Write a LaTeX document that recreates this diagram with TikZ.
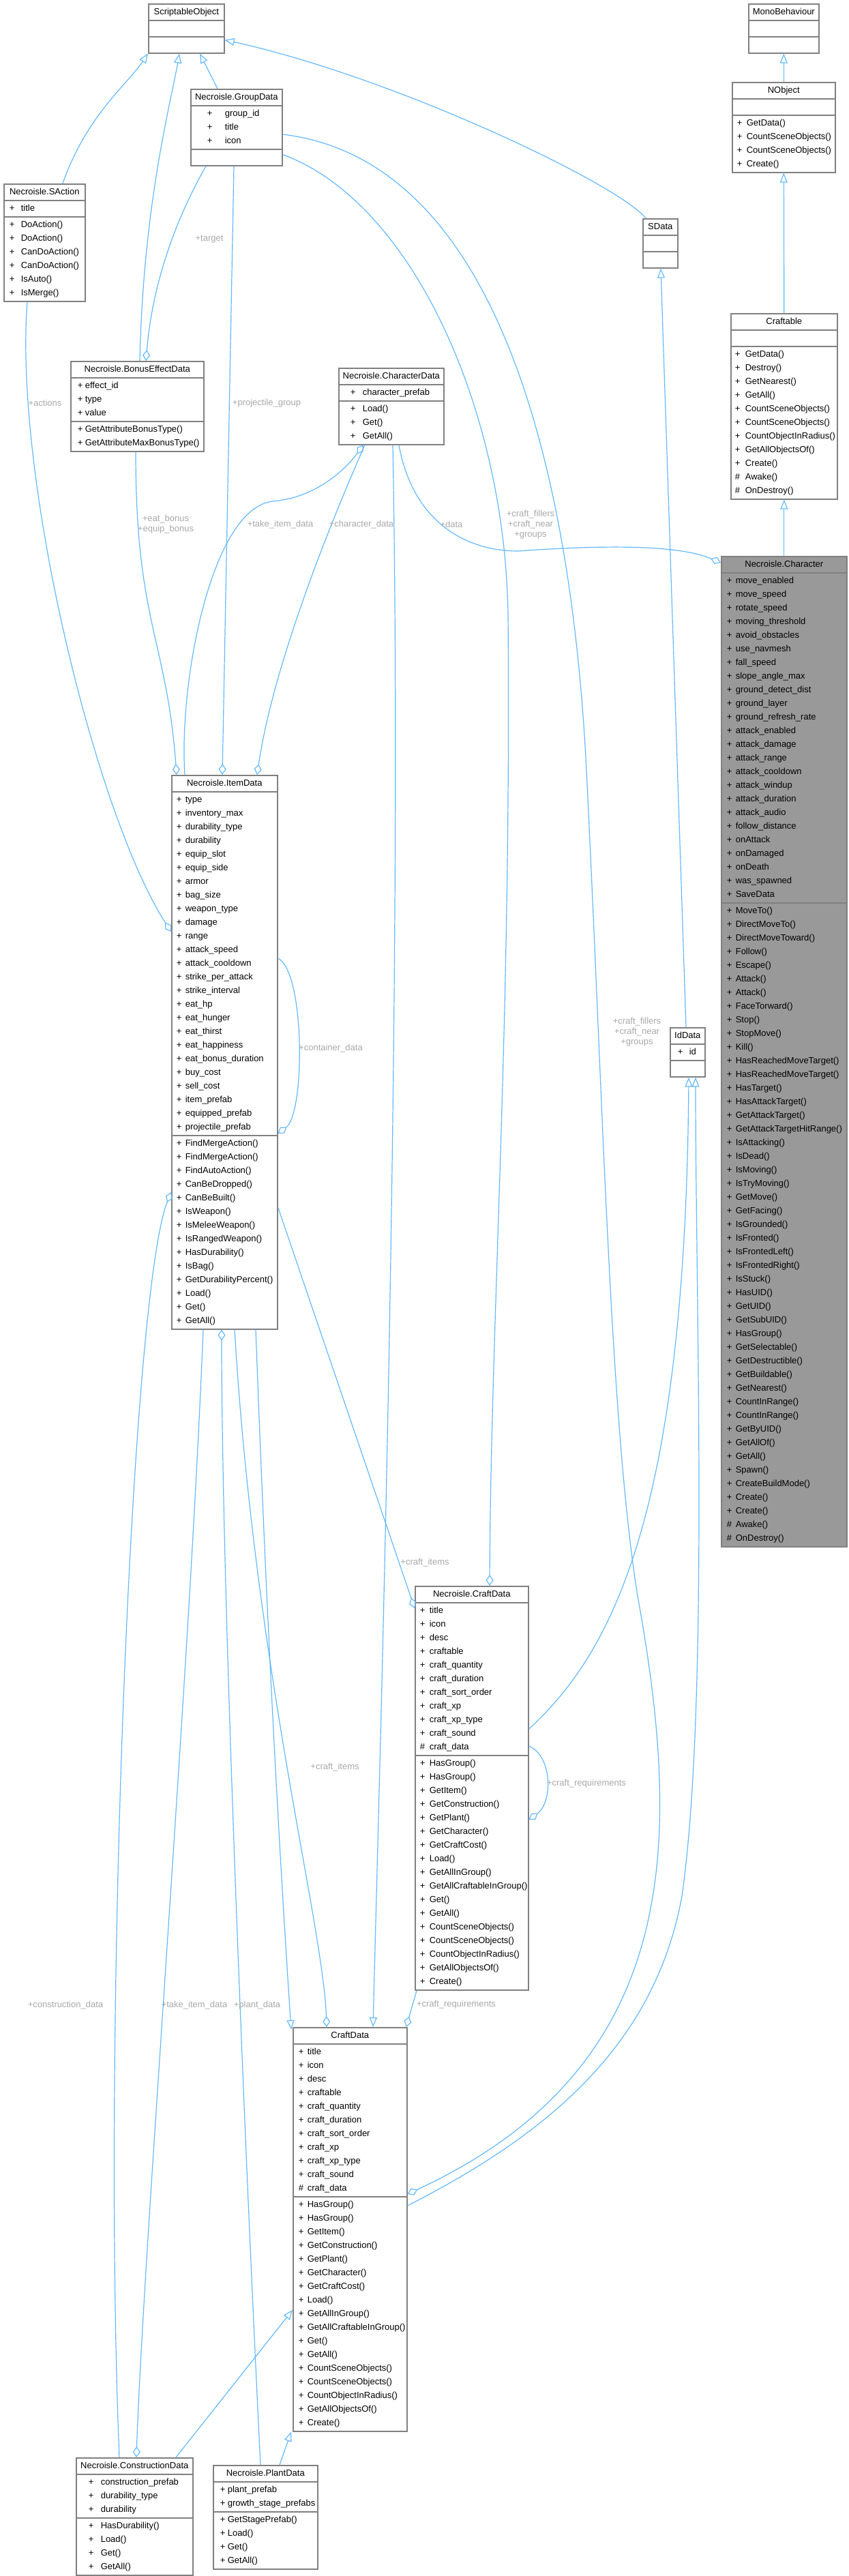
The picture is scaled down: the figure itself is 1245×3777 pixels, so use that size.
\documentclass[tikz,border=0pt]{standalone}
\usepackage{fontspec}
\setmainfont{Liberation Sans}
\usetikzlibrary{shapes.multipart,arrows.meta,calc}
\definecolor{edgeblue}{HTML}{63B8FF}
\definecolor{boxgray}{HTML}{808080}
\definecolor{labelgray}{HTML}{A8A8A8}
\definecolor{focusgray}{HTML}{999999}
\newlength\bxw
\newlength\bxi
\newlength\bxp
\newcommand\ttl[1]{\makebox[\bxw][c]{#1}\strut}
\newcommand\pub[1]{\makebox[\bxw][l]{\hspace*{\bxi}\makebox[\bxp][l]{+}#1}\strut}
\newcommand\pro[1]{\makebox[\bxw][l]{\hspace*{\bxi}\makebox[\bxp][l]{\#}#1}\strut}
\newcommand\emptyrow{\makebox[\bxw]{}\strut}
\begin{document}
\begin{tikzpicture}[x=0.5pt,y=-0.5pt]
    \tikzset{cls/.style = {rectangle split, rectangle split parts=3, draw=boxgray, line width=0.8pt, fill=white, inner xsep=0pt, inner ysep=0.6pt, align=left, anchor=north west, font=\fontsize{6.5}{10}\selectfont},
      bx/.code n args = {3}{\setlength\bxw{#1}\setlength\bxi{#2}\setlength\bxp{#3}},
      inh/.style = {draw=edgeblue, line width=0.6pt, -{Triangle[open,length=7pt,width=5.5pt]}},
      agg/.style = {draw=edgeblue, line width=0.6pt, -{Diamond[open,length=8pt,width=5.5pt]}},
      lbl/.style = {text=labelgray, font=\fontsize{6.5}{7.5}\selectfont, align=center, inner sep=0pt}}
    \useasboundingbox (0,0) rectangle (1245,3777);
    \node[cls,bx={55.5pt}{0pt}{0pt}] (so) at (217,5) {\ttl{ScriptableObject}\nodepart{second}\emptyrow\nodepart{third}\emptyrow};
    \node[cls,bx={51.5pt}{0pt}{0pt}] (mono) at (1097,5) {\ttl{MonoBehaviour}\nodepart{second}\emptyrow\nodepart{third}\emptyrow};
    \node[cls,bx={75.5pt}{3.5pt}{7pt}] (nobj) at (1073,120) {\ttl{NObject}\nodepart{second}\emptyrow\nodepart{third}\pub{GetData()}\\\pub{CountSceneObjects()}\\\pub{CountSceneObjects()}\\\pub{Create()}};
    \node[cls,bx={78pt}{3pt}{7.5pt}] (craftable) at (1071,459) {\ttl{Craftable}\nodepart{second}\emptyrow\nodepart{third}\pub{GetData()}\\\pub{Destroy()}\\\pub{GetNearest()}\\\pub{GetAll()}\\\pub{CountSceneObjects()}\\\pub{CountSceneObjects()}\\\pub{CountObjectInRadius()}\\\pub{GetAllObjectsOf()}\\\pub{Create()}\\\pro{Awake()}\\\pro{OnDestroy()}};
    \node[cls,bx={25.5pt}{0pt}{0pt}] (sdata) at (942,320) {\ttl{SData}\nodepart{second}\emptyrow\nodepart{third}\emptyrow};
    \node[cls,bx={67pt}{12pt}{13pt}] (group) at (279,130) {\ttl{Necroisle.GroupData}\nodepart{second}\pub{group\_id}\\\pub{title}\\\pub{icon}\nodepart{third}\emptyrow};
    \node[cls,bx={59.5pt}{4pt}{8.5pt}] (saction) at (5,269) {\ttl{Necroisle.SAction}\nodepart{second}\pub{title}\nodepart{third}\pub{DoAction()}\\\pub{DoAction()}\\\pub{CanDoAction()}\\\pub{CanDoAction()}\\\pub{IsAuto()}\\\pub{IsMerge()}};
    \node[cls,bx={97.5pt}{5pt}{5.5pt}] (bonus) at (103,529) {\ttl{Necroisle.BonusEffectData}\nodepart{second}\pub{effect\_id}\\\pub{type}\\\pub{value}\nodepart{third}\pub{GetAttributeBonusType()}\\\pub{GetAttributeMaxBonusType()}};
    \node[cls,bx={77pt}{8.5pt}{9pt}] (chardata) at (496,539) {\ttl{Necroisle.CharacterData}\nodepart{second}\pub{character\_prefab}\nodepart{third}\pub{Load()}\\\pub{Get()}\\\pub{GetAll()}};
    \node[cls,bx={92pt}{4pt}{6.5pt},fill=focusgray] (character) at (1057,815) {\ttl{Necroisle.Character}\nodepart{second}\pub{move\_enabled}\\\pub{move\_speed}\\\pub{rotate\_speed}\\\pub{moving\_threshold}\\\pub{avoid\_obstacles}\\\pub{use\_navmesh}\\\pub{fall\_speed}\\\pub{slope\_angle\_max}\\\pub{ground\_detect\_dist}\\\pub{ground\_layer}\\\pub{ground\_refresh\_rate}\\\pub{attack\_enabled}\\\pub{attack\_damage}\\\pub{attack\_range}\\\pub{attack\_cooldown}\\\pub{attack\_windup}\\\pub{attack\_duration}\\\pub{attack\_audio}\\\pub{follow\_distance}\\\pub{onAttack}\\\pub{onDamaged}\\\pub{onDeath}\\\pub{was\_spawned}\\\pub{SaveData}\nodepart{third}\pub{MoveTo()}\\\pub{DirectMoveTo()}\\\pub{DirectMoveToward()}\\\pub{Follow()}\\\pub{Escape()}\\\pub{Attack()}\\\pub{Attack()}\\\pub{FaceTorward()}\\\pub{Stop()}\\\pub{StopMove()}\\\pub{Kill()}\\\pub{HasReachedMoveTarget()}\\\pub{HasReachedMoveTarget()}\\\pub{HasTarget()}\\\pub{HasAttackTarget()}\\\pub{GetAttackTarget()}\\\pub{GetAttackTargetHitRange()}\\\pub{IsAttacking()}\\\pub{IsDead()}\\\pub{IsMoving()}\\\pub{IsTryMoving()}\\\pub{GetMove()}\\\pub{GetFacing()}\\\pub{IsGrounded()}\\\pub{IsFronted()}\\\pub{IsFrontedLeft()}\\\pub{IsFrontedRight()}\\\pub{IsStuck()}\\\pub{HasUID()}\\\pub{GetUID()}\\\pub{GetSubUID()}\\\pub{HasGroup()}\\\pub{GetSelectable()}\\\pub{GetDestructible()}\\\pub{GetBuildable()}\\\pub{GetNearest()}\\\pub{CountInRange()}\\\pub{CountInRange()}\\\pub{GetByUID()}\\\pub{GetAllOf()}\\\pub{GetAll()}\\\pub{Spawn()}\\\pub{CreateBuildMode()}\\\pub{Create()}\\\pub{Create()}\\\pro{Awake()}\\\pro{OnDestroy()}};
    \node[cls,bx={77.5pt}{3.5pt}{6.5pt}] (item) at (251,1136) {\ttl{Necroisle.ItemData}\nodepart{second}\pub{type}\\\pub{inventory\_max}\\\pub{durability\_type}\\\pub{durability}\\\pub{equip\_slot}\\\pub{equip\_side}\\\pub{armor}\\\pub{bag\_size}\\\pub{weapon\_type}\\\pub{damage}\\\pub{range}\\\pub{attack\_speed}\\\pub{attack\_cooldown}\\\pub{strike\_per\_attack}\\\pub{strike\_interval}\\\pub{eat\_hp}\\\pub{eat\_hunger}\\\pub{eat\_thirst}\\\pub{eat\_happiness}\\\pub{eat\_bonus\_duration}\\\pub{buy\_cost}\\\pub{sell\_cost}\\\pub{item\_prefab}\\\pub{equipped\_prefab}\\\pub{projectile\_prefab}\nodepart{third}\pub{FindMergeAction()}\\\pub{FindMergeAction()}\\\pub{FindAutoAction()}\\\pub{CanBeDropped()}\\\pub{CanBeBuilt()}\\\pub{IsWeapon()}\\\pub{IsMeleeWeapon()}\\\pub{IsRangedWeapon()}\\\pub{HasDurability()}\\\pub{IsBag()}\\\pub{GetDurabilityPercent()}\\\pub{Load()}\\\pub{Get()}\\\pub{GetAll()}};
    \node[cls,bx={25.5pt}{5.5pt}{8.5pt}] (iddata) at (982,1506) {\ttl{IdData}\nodepart{second}\pub{id}\nodepart{third}\emptyrow};
    \node[cls,bx={83pt}{3.5pt}{7pt}] (ncraft) at (608,2325) {\ttl{Necroisle.CraftData}\nodepart{second}\pub{title}\\\pub{icon}\\\pub{desc}\\\pub{craftable}\\\pub{craft\_quantity}\\\pub{craft\_duration}\\\pub{craft\_sort\_order}\\\pub{craft\_xp}\\\pub{craft\_xp\_type}\\\pub{craft\_sound}\\\pro{craft\_data}\nodepart{third}\pub{HasGroup()}\\\pub{HasGroup()}\\\pub{GetItem()}\\\pub{GetConstruction()}\\\pub{GetPlant()}\\\pub{GetCharacter()}\\\pub{GetCraftCost()}\\\pub{Load()}\\\pub{GetAllInGroup()}\\\pub{GetAllCraftableInGroup()}\\\pub{Get()}\\\pub{GetAll()}\\\pub{CountSceneObjects()}\\\pub{CountSceneObjects()}\\\pub{CountObjectInRadius()}\\\pub{GetAllObjectsOf()}\\\pub{Create()}};
    \node[cls,bx={83.5pt}{4pt}{6.5pt}] (craft) at (429,2972) {\ttl{CraftData}\nodepart{second}\pub{title}\\\pub{icon}\\\pub{desc}\\\pub{craftable}\\\pub{craft\_quantity}\\\pub{craft\_duration}\\\pub{craft\_sort\_order}\\\pub{craft\_xp}\\\pub{craft\_xp\_type}\\\pub{craft\_sound}\\\pro{craft\_data}\nodepart{third}\pub{HasGroup()}\\\pub{HasGroup()}\\\pub{GetItem()}\\\pub{GetConstruction()}\\\pub{GetPlant()}\\\pub{GetCharacter()}\\\pub{GetCraftCost()}\\\pub{Load()}\\\pub{GetAllInGroup()}\\\pub{GetAllCraftableInGroup()}\\\pub{Get()}\\\pub{GetAll()}\\\pub{CountSceneObjects()}\\\pub{CountSceneObjects()}\\\pub{CountObjectInRadius()}\\\pub{GetAllObjectsOf()}\\\pub{Create()}};
    \node[cls,bx={85.5pt}{9pt}{9pt}] (construct) at (111,3603) {\ttl{Necroisle.ConstructionData}\nodepart{second}\pub{construction\_prefab}\\\pub{durability\_type}\\\pub{durability}\nodepart{third}\pub{HasDurability()}\\\pub{Load()}\\\pub{Get()}\\\pub{GetAll()}};
    \node[cls,bx={76.5pt}{5pt}{5.5pt}] (plant) at (312,3614) {\ttl{Necroisle.PlantData}\nodepart{second}\pub{plant\_prefab}\\\pub{growth\_stage\_prefabs}\nodepart{third}\pub{GetStagePrefab()}\\\pub{Load()}\\\pub{Get()}\\\pub{GetAll()}};
    % inheritance
    \draw[inh] (nobj.north) -- (mono.south);
    \draw[inh] (craftable.north) -- (nobj.south);
    \draw[inh] (character.north) -- (craftable.south);
    \draw[inh] ($(saction.north west)+(87,0)$) .. controls +(35,-100) and +(-30,45) .. (so.south west);
    \draw[inh] ($(bonus.north west)+(102,0)$) .. controls +(5,-230) and +(-12,70) .. ($(so.south west)+(46,0)$);
    \draw[inh] ($(group.north west)+(40,0)$) -- ($(so.south west)+(76,0)$);
    \draw[inh] ($(sdata.north west)+(5,0)$) .. controls +(-40,-50) and +(250,55) .. ($(so.south east)+(0,-20)$);
    \draw[inh] ($(iddata.north west)+(24,0)$) -- ($(sdata.south west)+(27,0)$);
    \draw[inh] ($(ncraft.north east)+(0,210)$) .. controls +(126,-115) and +(-5,630) .. ($(iddata.south west)+(28,0)$);
    \draw[inh] ($(craft.north east)+(0,262)$) .. controls +(204,-104) and +(-40,220) .. (1000,2780) .. controls +(40,-280) and +(0,330) .. ($(iddata.south west)+(38,0)$);
    \draw[inh] ($(chardata.south west)+(80,0)$) .. controls +(15,800) and +(10,-400) .. ($(craft.north west)+(118,0)$);
    \draw[inh] ($(item.south west)+(124,0)$) .. controls +(15,400) and +(-20,-300) .. ($(craft.north west)+(-2,4)$);
    \draw[inh] ($(construct.north west)+(147,0)$) -- ($(craft.north west)+(0,415)$);
    \draw[inh] ($(plant.north west)+(98,0)$) -- ($(craft.south west)+(-2,0)$);
    % members
    \draw[agg] ($(group.south west)+(23,0)$) .. controls +(-40,70) and +(10,-120) .. ($(bonus.north west)+(111,0)$);
    \draw[agg] ($(group.south west)+(64,0)$) -- ($(item.north west)+(75,0)$);
    \draw[agg] ($(bonus.south west)+(96,0)$) .. controls +(0,250) and +(-15,-200) .. ($(item.north west)+(8,0)$);
    \draw[agg] ($(saction.south west)+(35,0)$) .. controls +(-20,260) and +(-110,-170) .. ($(item.north west)+(0,230)$);
    \draw[agg] ($(item.north west)+(20,0)$) .. controls +(-9,-136) and +(-90,10) .. (400,735) .. controls +(60,-5) and +(-30,40) .. ($(chardata.south west)+(37,0)$);
    \draw[agg] ($(chardata.south west)+(39,0)$) .. controls +(-40,90) and +(25,-170) .. ($(item.north west)+(126,0)$);
    \draw[agg] ($(chardata.south west)+(89,0)$) .. controls +(20,110) and +(-80,0) .. (760,808) .. controls +(140,-10) and +(-60,-25) .. ($(character.north west)+(0,10)$);
    \draw[agg] ($(group.south east)+(0,-17)$) .. controls +(190,70) and +(-5,-300) .. (745,900) .. controls +(5,600) and +(2,-400) .. ($(ncraft.north west)+(110,0)$);
    \draw[agg] ($(group.north east)+(0,67)$) .. controls +(330,40) and +(-20,-400) .. (860,1130) .. controls +(25,500) and +(-40,-250) .. (935,2340) .. controls +(65,360) and +(404,-187) .. ($(craft.north east)+(0,245)$);
    \draw[agg] ($(item.north east)+(0,269)$) .. controls +(40,20) and +(40,-30) .. ($(item.north east)+(0,526)$);
    \draw[agg] ($(item.north east)+(0,634)$) -- ($(ncraft.north west)+(0,33)$);
    \draw[agg] ($(item.south west)+(47,0)$) .. controls +(-20,500) and +(10,-300) .. ($(construct.north west)+(89,0)$);
    \draw[agg] ($(plant.north west)+(70,0)$) .. controls +(-20,-400) and +(0,400) .. ($(item.south west)+(74,0)$);
    \draw[agg] ($(item.south west)+(93,0)$) .. controls +(30,500) and +(-5,-150) .. ($(craft.north west)+(50,0)$);
    \draw[agg] ($(construct.north west)+(64,0)$) .. controls +(-25,-600) and +(-60,150) .. ($(item.north west)+(0,612)$);
    \draw[agg] ($(ncraft.south west)+(3,0)$) -- ($(craft.north east)+(-2,0)$);
    \draw[agg] ($(ncraft.north east)+(0,235)$) .. controls +(35,15) and +(35,-25) .. ($(ncraft.north east)+(0,343)$);
    % labels
    \node[lbl] (ltarget) at (307,351) {+target};
    \node[lbl] (lactions) at (66,591) {+actions};
    \node[lbl] (lprojectile) at (391,591) {+projectile\_group};
    \node[lbl] (lbonus) at (243,769) {+eat\_bonus\\+equip\_bonus};
    \node[lbl] (ltakeitem) at (411,769) {+take\_item\_data};
    \node[lbl] (lchardata) at (530,769) {+character\_data};
    \node[lbl] (ldata) at (662,769) {+data};
    \node[lbl] (lgroups) at (778,769) {+craft\_fillers\\+craft\_near\\+groups};
    \node[lbl] (lcontainer) at (485,1537) {+container\_data};
    \node[lbl] (lgroupslow) at (934,1513) {+craft\_fillers\\+craft\_near\\+groups};
    \node[lbl] (litems) at (623,2291) {+craft\_items};
    \node[lbl] (litemslow) at (491,2591) {+craft\_items};
    \node[lbl] (lreqloop) at (860,2615) {+craft\_requirements};
    \node[lbl] (lconstruction) at (96,2940) {+construction\_data};
    \node[lbl] (ltakeitemlow) at (285,2940) {+take\_item\_data};
    \node[lbl] (lplant) at (377,2940) {+plant\_data};
    \node[lbl] (lreq) at (669,2939) {+craft\_requirements};
\end{tikzpicture}
\end{document}
